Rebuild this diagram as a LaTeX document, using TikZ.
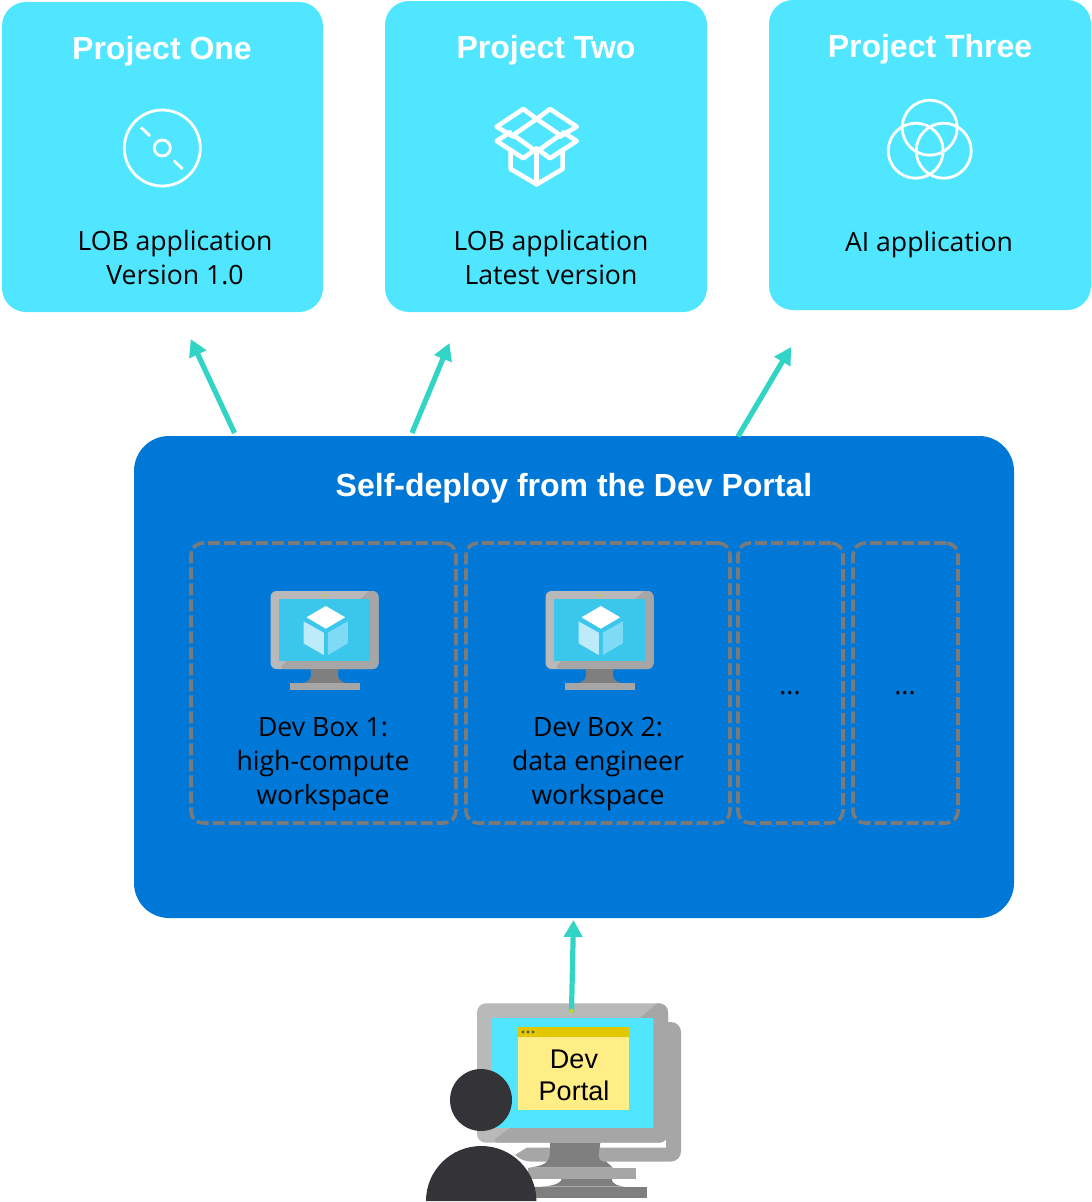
\documentclass[tikz,border=0pt]{standalone}
\usepackage{fontspec}
\setmainfont{Open Sans}
\newfontfamily\arialfont{Liberation Sans}
\usetikzlibrary{arrows.meta}
\definecolor{cyanbox}{HTML}{50E6FF}
\definecolor{panelblue}{HTML}{0078D7}
\definecolor{arrowteal}{HTML}{32D4C6}
\definecolor{dashgrey}{HTML}{7A7A7A}
\definecolor{monlight}{HTML}{B9B9B9}
\definecolor{mondark}{HTML}{A6A6A6}
\definecolor{monstand}{HTML}{7F7F7F}
\definecolor{vmscreen}{HTML}{3BC6EC}
\definecolor{cubeleft}{HTML}{BDEBF9}
\definecolor{cuberight}{HTML}{7FDBF5}
\definecolor{personc}{HTML}{343337}
\definecolor{noteyellow}{HTML}{FFED85}
\definecolor{notebar}{HTML}{E2C600}
\definecolor{dotgreen}{HTML}{B6D634}
\tikzset{
  projectbox/.style={fill=cyanbox,rounded corners=24pt,draw=none,inner sep=0pt},
  panelbox/.style={fill=panelblue,rounded corners=35pt,draw=none,inner sep=0pt},
  dashbox/.style={draw=dashgrey,line width=3.6pt,dash pattern=on 12pt off 4pt,rounded corners=12pt,inner sep=0pt},
  flow/.style={draw=arrowteal,fill=arrowteal,line width=5.2pt,-{Triangle[length=17pt,width=18pt]}},
  title/.style={font=\arialfont\bfseries\fontsize{32}{36}\selectfont,text=white,inner sep=0pt,anchor=center},
  label/.style={font=\fontsize{26.6}{33.7}\selectfont,text=black,inner sep=0pt,align=center,anchor=center},
  arlabel/.style={font=\arialfont\fontsize{27}{32}\selectfont,text=black,inner sep=0pt,align=center,anchor=center},
  iconline/.style={draw=white,line width=2.8pt,fill=none},
  boxline/.style={draw=white,line width=4.6pt,fill=none,line join=round,line cap=round},
  monitor/.pic={
    \fill[monlight,rounded corners=6pt] (0,0) rectangle (108,78);
    \fill[mondark] (90,8) -- (98,0) [rounded corners=6pt] -- (108,0) -- (108,78) -- (8,78) [sharp corners] -- (16,70) -- (99,70) -- (99,8) -- cycle;
    \fill[monstand] (40,78) -- (68,78) .. controls (66,88) and (70,92) .. (78,92) -- (30,92) .. controls (38,92) and (42,88) .. (40,78) -- cycle;
    \fill[mondark] (19,92) rectangle (89,99);
    \fill[vmscreen] (8,8) rectangle (99,70);
    \fill[dotgreen] (53.5,4.3) circle (1.5);
    \fill[white] (55.3,15) -- (74.7,26.3) -- (55.3,37.7) -- (36,26.3) -- cycle;
    \fill[cubeleft] (33,30.3) -- (53.3,41.7) -- (53.3,64) -- (33,52.3) -- cycle;
    \fill[cuberight] (77.3,30.3) -- (57.3,41.7) -- (57.3,64) -- (77.3,52.3) -- cycle;
  }
}
\begin{document}
\begin{tikzpicture}[x=1pt,y=-1pt]
\useasboundingbox (0,0) rectangle (1092,1202);
% project boxes
\node[projectbox,minimum width=321pt,minimum height=310pt] (p1) at (162.5,157) {};
\node[projectbox,minimum width=322pt,minimum height=311pt] (p2) at (546,156.5) {};
\node[projectbox,minimum width=322pt,minimum height=310pt] (p3) at (930,155) {};
\node[title] (t1) at (162,51) {Project One};
\node[title] (t2) at (546,50) {Project Two};
\node[title] (t3) at (930,49) {Project Three};
\node[label] (l1) at (175,257.3) {LOB application\\Version 1.0};
\node[label] (l2) at (551,257.3) {LOB application\\Latest version};
\node[label] (l3) at (929,245) {AI application};
% disc icon
\draw[iconline] (162.3,148) circle (38);
\draw[iconline] (162.3,148) circle (8);
\draw[iconline] (141,127.3) -- (150,136);
\draw[iconline] (174,160.7) -- (182.7,169);
% box icon
\begin{scope}[shift={(480,95)},x=0.3333pt,y=-0.3333pt]
\draw[boxline] (170,72) -- (240,120) -- (170,170) -- (100,120) -- cycle;
\draw[boxline] (170,72) -- (130,42) -- (50,95) -- (100,125);
\draw[boxline] (170,72) -- (210,42) -- (290,95) -- (240,125);
\draw[boxline] (90,112) -- (50,138) -- (130,190) -- (170,160) -- (210,190) -- (290,138) -- (250,112);
\draw[boxline] (92,168) -- (92,222) -- (170,268) -- (248,222) -- (248,168);
\draw[boxline] (170,165) -- (170,268);
\end{scope}
% circles icon
\draw[iconline] (929.7,127.7) circle (27.5);
\draw[iconline] (915.7,150.7) circle (27.5);
\draw[iconline] (943.7,150.7) circle (27.5);
% panel
\node[panelbox,minimum width=880pt,minimum height=482pt] (panel) at (574,677) {};
\node[title] (ptitle) at (574,488) {Self-deploy from the Dev Portal};
\node[dashbox,minimum width=265pt,minimum height=280pt] (d1) at (323.5,683) {};
\node[dashbox,minimum width=264pt,minimum height=280pt] (d2) at (598,683) {};
\node[dashbox,minimum width=105pt,minimum height=280pt] (d3) at (790.5,683) {};
\node[dashbox,minimum width=105pt,minimum height=280pt] (d4) at (905.5,683) {};
\pic at (270.5,591) {monitor};
\pic at (545.5,591) {monitor};
\node[label] (b1) at (323,764) {Dev Box 1:\\high-compute\\workspace};
\node[label] (b2) at (598,764) {Dev Box 2:\\data engineer\\workspace};
\node[label] (b3) at (790,693) {...};
\node[label] (b4) at (905,693) {...};
% connector ends
\coordinate (a1s) at (234.5,433);
\coordinate (a1e) at (190.7,339);
\coordinate (a2s) at (412,433);
\coordinate (a2e) at (449.5,343);
\coordinate (a3s) at (738,436.5);
\coordinate (a3e) at (791,347);
\coordinate (a4s) at (571.5,1012);
\coordinate (a4e) at (573.5,920);
% dev portal workstation: rear monitor
\fill[mondark] (645,1022) -- (668,1022) [rounded corners=10pt] -- (681,1022) -- (681,1161.5) -- (520,1161.5) [sharp corners] -- (515,1155) -- (526.7,1147.7) -- (666,1147.7) -- (666,1125) -- (645,1125) -- cycle;
% rear stand and base
\fill[monstand] (561.7,1179) .. controls (560,1185) and (548,1186.7) .. (535,1186.7) -- (625,1186.7) .. controls (618,1186) and (612,1184) .. (611.7,1179) -- cycle;
\fill[monstand] (530,1186.7) rectangle (647,1198.3);
% front stand and base
\fill[monstand] (550,1142) -- (600.5,1142) -- (598.5,1155) .. controls (598.5,1160) and (602,1162) .. (606,1161.5) -- (613,1167.7) -- (528,1167.7) .. controls (542,1166) and (551,1164) .. (550,1150) -- cycle;
\fill[mondark] (528,1167.7) rectangle (636,1179.3);
% front monitor
\fill[monlight,rounded corners=9pt] (477,1003.3) rectangle (668,1142.7);
\fill[mondark] (640,1018) -- (657,1003.3) [rounded corners=9pt] -- (668,1003.3) -- (668,1142.7) -- (490,1142.7) [sharp corners] -- (510,1128) -- (653.3,1128) -- (653.3,1018) -- cycle;
\fill[cyanbox] (491.7,1018) rectangle (653.3,1128);
\fill[noteyellow] (518,1027.3) rectangle (629,1110);
\fill[notebar] (518,1027.3) rectangle (629,1037);
\fill[gray!70!black] (523,1032) circle (1.6) (528,1032) circle (1.6) (533,1032) circle (1.6);
\node[arlabel] (dp) at (574,1075) {Dev\\Portal};
\fill[personc] (481,1100) circle (31);
\fill[personc] (426,1201) arc[start angle=180,end angle=360,x radius=55.2,y radius=55] -- cycle;
% arrows
\draw[flow] (a1s) -- (a1e);
\draw[flow] (a2s) -- (a2e);
\draw[flow] (a3s) -- (a3e);
\draw[flow] (a4s) -- (a4e);
\fill[dotgreen] (571.5,1011) circle (2.4);
\end{tikzpicture}
\end{document}
